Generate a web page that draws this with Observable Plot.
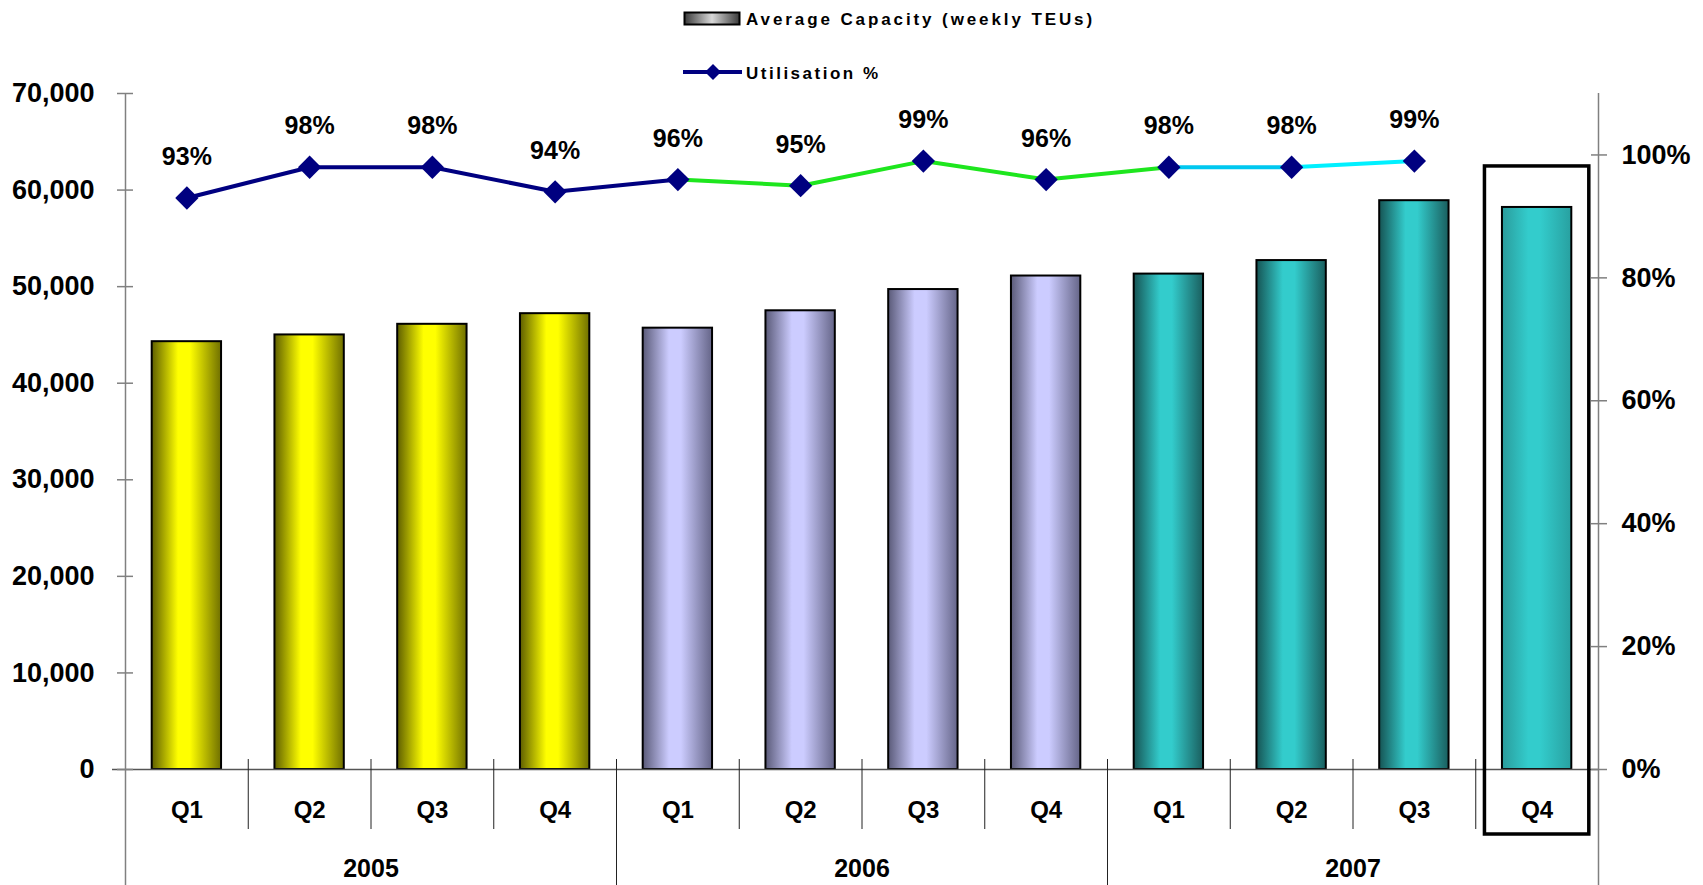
<!DOCTYPE html>
<html>
<head>
<meta charset="utf-8">
<script src="https://cdn.jsdelivr.net/npm/d3@7"></script>
<script src="https://cdn.jsdelivr.net/npm/@observablehq/plot@0.6"></script>
<style>
  html, body { margin: 0; padding: 0; background: #fff; }
  #wrap { position: relative; width: 1703px; height: 885px; overflow: hidden; font-family: "Liberation Sans", Arial, sans-serif; }
  #legend { position: absolute; left: 0; top: 0; }
  #chart { position: absolute; left: 0; top: 0; }
</style>
</head>
<body>
<div id="wrap">
  <div id="chart"></div>
  <svg id="legend" width="1703" height="90" xmlns="http://www.w3.org/2000/svg">
    <defs>
      <linearGradient id="g-legend" x1="0" x2="1" y1="0" y2="0">
        <stop offset="0" stop-color="#3a3a3a"/>
        <stop offset="0.5" stop-color="#d8d8d8"/>
        <stop offset="1" stop-color="#3a3a3a"/>
      </linearGradient>
    </defs>
    <rect x="684.5" y="12.5" width="55" height="12" fill="url(#g-legend)" stroke="#000" stroke-width="2"/>
    <text x="746" y="25" font-size="17" font-weight="bold" letter-spacing="2.9" font-family="Liberation Sans, Arial, sans-serif">Average Capacity (weekly TEUs)</text>
    <line x1="683" x2="742" y1="72" y2="72" stroke="#000080" stroke-width="4"/>
    <path d="M713,64 L721,72 L713,80 L705,72 Z" fill="#000080"/>
    <text x="746" y="79" font-size="17" font-weight="bold" letter-spacing="2.5" font-family="Liberation Sans, Arial, sans-serif">Utilisation %</text>
  </svg>
</div>
<script>
// ---- data ----
const years = ["2005", "2006", "2007"];
const quarters = ["Q1", "Q2", "Q3", "Q4"];
const capacity = [44300, 45000, 46100, 47200, 45700, 47500, 49700, 51100, 51300, 52700, 58900, 58200];
const utilisation = [93, 98, 98, 94, 96, 95, 99, 96, 98, 98, 99, null];
const leftTicks = [0, 10000, 20000, 30000, 40000, 50000, 60000, 70000];
const rightTicks = [0, 20, 40, 60, 80, 100];
const highlightKey = "2007 Q4";

// ---- styles ----
const segmentColors = ["#000080", "#000080", "#000080", "#000080",
  "#1EE61E", "#1EE61E", "#1EE61E", "#1EE61E", "#00C8F0", "#00F0FF"];
const gradients = {
  "2005": ["#5E5E00", "#FFFF00", "#FFFF00", "#707000"],
  "2006": ["#5A5A78", "#CCCCFF", "#CCCCFF", "#656588"],
  "2007": ["#165454", "#33CCCC", "#33CCCC", "#1A5E5E"],
  "hl":   ["#2A9C9C", "#33CCCC", "#33CCCC", "#28A0A0"]
};
const gradStops = [0, 0.38, 0.55, 1];

// ---- derived table ----
const keys = years.flatMap(y => quarters.map(q => `${y} ${q}`));
const rows = keys.map((key, i) => ({
  key, year: key.split(" ")[0], quarter: key.split(" ")[1],
  capacity: capacity[i], util: utilisation[i],
  grad: key === highlightKey ? "hl" : key.split(" ")[0]
}));

const W = 1703, H = 885, mL = 125, mR = 105, mT = 93, mB = 116;
const plotH = H - mT - mB;
const step = (W - mL - mR) / keys.length;
const yMax = 70000, rightMax = 110;
const k = yMax / rightMax; // utilisation % -> left-axis units

const utilRows = rows.filter(r => r.util != null);
const segData = segmentColors.flatMap((c, i) => [
  {seg: i, key: keys[i], v: utilisation[i] * k, color: c},
  {seg: i, key: keys[i + 1], v: utilisation[i + 1] * k, color: c}
]);
const yearRows = years.map(y => ({year: y, key: `${y} Q2`}));
const font = "Liberation Sans, Arial, sans-serif";

const plot = Plot.plot({
  width: W, height: H,
  marginLeft: mL, marginRight: mR, marginTop: mT, marginBottom: mB,
  style: {fontFamily: font, color: "black", background: "transparent", overflow: "visible"},
  x: {type: "band", domain: keys, paddingInner: 0.435, paddingOuter: 0.2175, round: false, axis: null, label: null},
  y: {domain: [0, yMax], axis: null, label: null},
  color: {type: "identity"},
  marks: [
    // bars
    ...Object.keys(gradients).map(g => Plot.barY(rows.filter(r => r.grad === g), {
      x: "key", y: "capacity", fill: `url(#g-${g})`, stroke: "#000", strokeWidth: 2
    })),
    // baseline
    Plot.ruleY([0], {stroke: "#555", strokeWidth: 1.5, insetLeft: -13}),
    // axis lines
    Plot.ruleX([keys[0]], {dx: -step / 2, insetBottom: -mB, stroke: "#808080", strokeWidth: 1.5}),
    Plot.ruleX([keys[keys.length - 1]], {dx: step / 2, insetBottom: -mB, stroke: "#808080", strokeWidth: 1.5}),
    // year separators
    Plot.ruleX(rows.filter(r => r.quarter === "Q1" && r.year !== years[0]), {
      x: "key", dx: -step / 2, insetTop: plotH - 10, insetBottom: -mB, stroke: "#222", strokeWidth: 1
    }),
    // quarter separators
    Plot.ruleX(rows.filter(r => r.quarter !== "Q1"), {
      x: "key", dx: -step / 2, insetTop: plotH - 10, insetBottom: -60, stroke: "#222", strokeWidth: 1
    }),
    // left axis
    Plot.axisY(leftTicks, {
      anchor: "left", tickFormat: d3.format(","), tickSize: 16, dx: 8, tickPadding: 23,
      fontSize: 27, fontWeight: "bold", stroke: "#808080", strokeWidth: 1.5, fill: "black", label: null
    }),
    // right axis
    Plot.axisY(rightTicks.map(v => v * k), {
      anchor: "right", tickFormat: d => Math.round(d / k) + "%", tickSize: 16, dx: -8, tickPadding: 15,
      fontSize: 27, fontWeight: "bold", stroke: "#808080", strokeWidth: 1.5, fill: "black", label: null
    }),
    // quarter labels
    Plot.axisX({
      anchor: "bottom", tickSize: 0, tickPadding: 31, tickFormat: d => d.split(" ")[1],
      fontSize: 24, fontWeight: "bold", fill: "black", label: null
    }),
    // year labels
    Plot.text(yearRows, {
      x: "key", text: "year", frameAnchor: "bottom", dx: step / 2, dy: 90, lineAnchor: "top",
      fontSize: 25, fontWeight: "bold", fill: "black"
    }),
    // utilisation line
    Plot.line(segData, {x: "key", y: "v", z: "seg", stroke: "color", strokeWidth: 4}),
    Plot.dot(utilRows, {x: "key", y: d => d.util * k, symbol: "diamond2", r: 10.5, fill: "#000080", stroke: "none"}),
    Plot.text(utilRows, {
      x: "key", y: d => d.util * k, text: d => d.util + "%", dy: -33, lineAnchor: "bottom",
      fontSize: 25, fontWeight: "bold", fill: "black"
    }),
    // highlight box
    Plot.barY(rows.filter(r => r.key === highlightKey), {
      x: "key", y: "capacity", fill: "none", stroke: "#000", strokeWidth: 3.5,
      insetLeft: -17.5, insetRight: -17.5, insetTop: -41, insetBottom: -65
    })
  ]
});

// gradients
const svg = d3.select(plot);
const defs = svg.insert("defs", ":first-child");
for (const [id, cols] of Object.entries(gradients)) {
  const lg = defs.append("linearGradient").attr("id", `g-${id}`)
    .attr("x1", 0).attr("x2", 1).attr("y1", 0).attr("y2", 0);
  cols.forEach((c, i) => lg.append("stop").attr("offset", gradStops[i]).attr("stop-color", c));
}
document.getElementById("chart").appendChild(plot);
</script>
</body>
</html>
